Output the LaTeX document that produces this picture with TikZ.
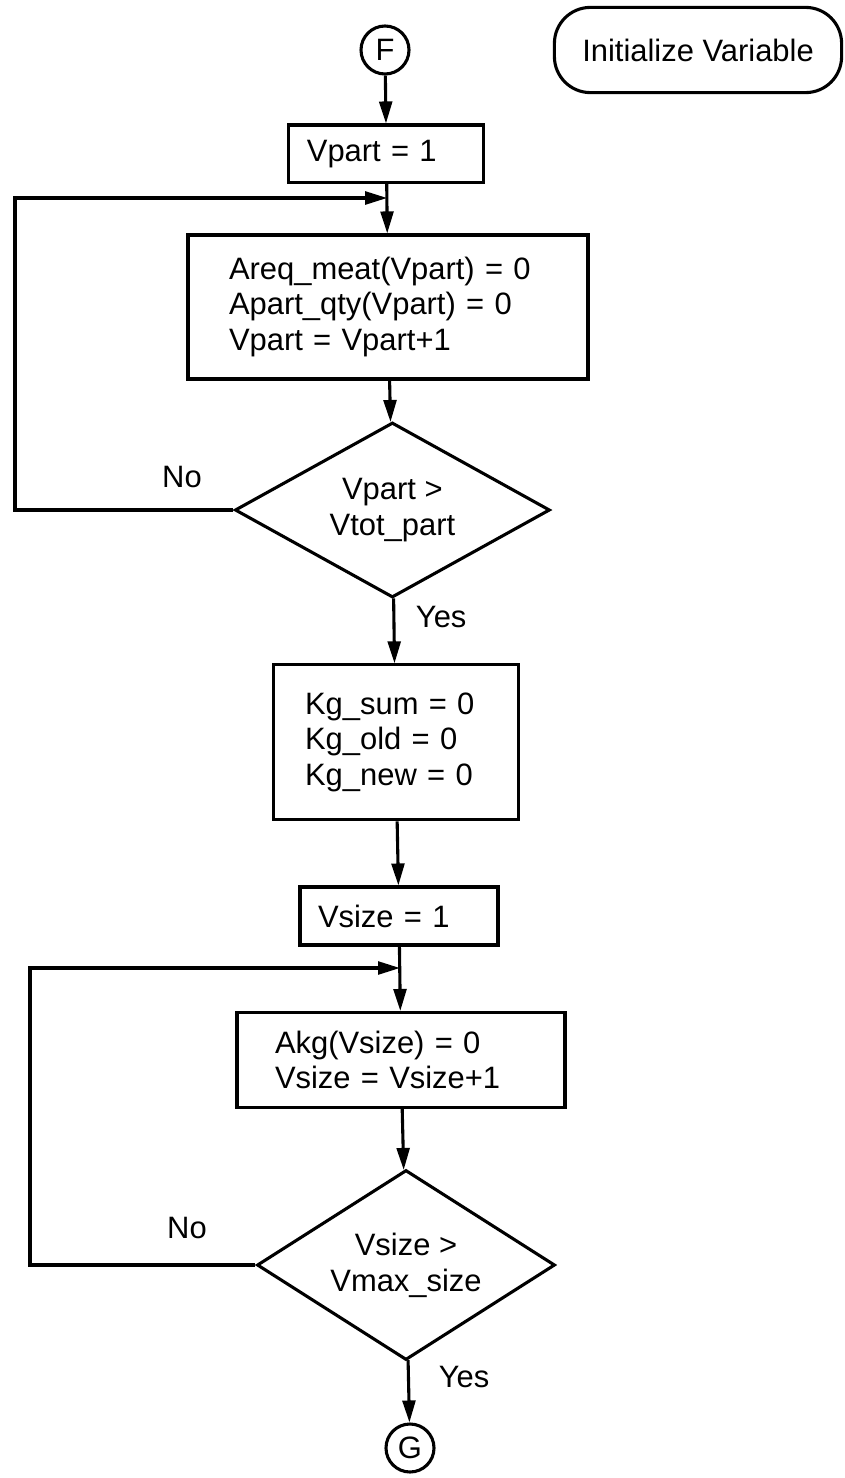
\documentclass[tikz,border=0pt]{standalone}
\usepackage{fontspec}
\setsansfont{Liberation Sans}
\usepackage{tikz}
\usetikzlibrary{shapes.geometric, arrows.meta, positioning}

\begin{document}
\begin{tikzpicture}[
    >={Triangle[length=5.5mm, width=3.2mm]},
    line width=2.2pt,
    process/.style={rectangle, draw=black, align=left, inner ysep=0pt,
                    font=\sffamily\fontsize{22}{25.5}\selectfont},
    decision/.style={diamond, draw=black, aspect=1.8, align=center, inner sep=0pt,
                     font=\sffamily\fontsize{22}{25.5}\selectfont},
    connector/.style={circle, draw=black, minimum size=1.2cm, inner sep=0pt,
                      font=\sffamily\fontsize{22}{25.5}\selectfont},
    terminal/.style={rectangle, draw=black, rounded corners=0.9cm,
                     minimum width=7.18cm, minimum height=2.13cm,
                     font=\sffamily\fontsize{22}{25.5}\selectfont},
    answer/.style={font=\sffamily\fontsize{22}{25.5}\selectfont, inner sep=0pt}
]
\useasboundingbox (0,0) rectangle (21.1,-36.95);

\node[connector] (f) at (9.625,-1.25) {F};
\node[terminal] (init) at (17.45,-1.25) {Initialize Variable};

% first loop: parts
\node[process, text width=3.975cm, inner xsep=0.45cm, minimum height=1.43cm]
    (vpart) at (9.66,-3.84) {Vpart = 1};
\coordinate (j1) at (9.68,-4.95);
\coordinate (c1) at (0.375,-4.95);
\node[process, text width=7.95cm, inner xsep=1.025cm, minimum height=3.6cm]
    (areq) at (9.7,-7.675)
    {Areq\_meat(Vpart) = 0\\Apart\_qty(Vpart) = 0\\Vpart = Vpart+1};
\node[decision, minimum width=7.875cm, minimum height=4.375cm]
    (dpart) at (9.81,-12.75) {Vpart >\\Vtot\_part};
\node[answer] (no1) at (4.55,-11.925) {No};
\node[answer] (yes1) at (11.03,-15.43) {Yes};

\node[process, text width=4.525cm, inner xsep=0.8cm, minimum height=3.875cm]
    (kg) at (9.89,-18.56) {Kg\_sum = 0\\Kg\_old = 0\\Kg\_new = 0};

% second loop: sizes
\node[process, text width=4.05cm, inner xsep=0.45cm, minimum height=1.45cm]
    (vsize) at (9.975,-22.9) {Vsize = 1};
\coordinate (j2) at (10.0,-24.2);
\coordinate (c2) at (0.75,-24.2);
\node[process, text width=6.3cm, inner xsep=0.95cm, minimum height=2.375cm]
    (akg) at (10.025,-26.5) {Akg(Vsize) = 0\\Vsize = Vsize+1};
\node[decision, minimum width=7.45cm, minimum height=4.75cm]
    (dsize) at (10.15,-31.625) {Vsize >\\Vmax\_size};
\node[answer] (no2) at (4.675,-30.7) {No};
\node[answer] (yes2) at (11.6,-34.43) {Yes};

\node[connector] (g) at (10.25,-36.2) {G};

\foreach \a/\b in {f/vpart, vpart/areq, areq/dpart, dpart/kg,
                   kg/vsize, vsize/akg, akg/dsize, dsize/g} {
    \draw[->] (\a) -- (\b);
}
\draw[->] (dpart.west) -| (c1) -- (j1);
\draw[->] (dsize.west) -| (c2) -- (j2);
\end{tikzpicture}
\end{document}
